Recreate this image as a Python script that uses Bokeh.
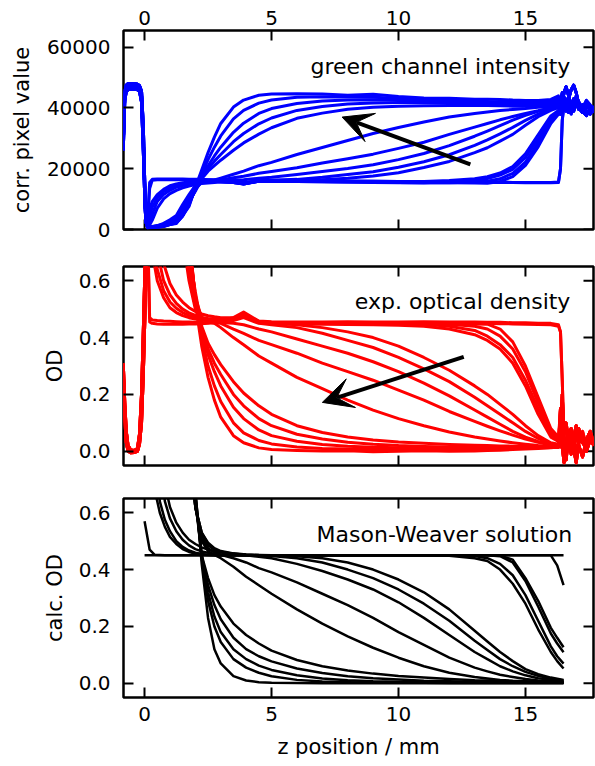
import math
from bokeh.plotting import figure
from bokeh.layouts import column
from bokeh.models import (Range1d, FixedTicker, LinearAxis, Label, Arrow, VeeHead,
                          BasicTickFormatter, PrintfTickFormatter)
from bokeh.embed import file_html
from bokeh.resources import INLINE

FONT = "DejaVu Sans"

# ---------------- data ----------------
x_ticks = [0, 5, 10, 15]
pix_ticks = [0, 20000, 40000, 60000]
od_ticks = [0.0, 0.2, 0.4, 0.6]
x_lim = [-0.83, 17.68]
pix_lim = [0, 65500]
od_lim = [-0.05, 0.65]

# z grids (mm)
z_edge = [-0.84, -0.78, -0.72, -0.65, -0.55, -0.4, -0.28, -0.2, -0.12, -0.05, 0.02, 0.06]
z_main = [0.12, 0.2, 0.3, 0.5, 0.75, 1.0, 1.25, 1.5, 1.75, 2.0, 2.25, 2.5, 2.75, 3.0, 3.5,
          3.9, 4.5, 5.0, 6.0, 7.0, 8.0, 9.0, 10.0, 11.0, 12.0, 13.0, 13.5, 14.0, 14.5, 15.0,
          15.5, 16.0, 16.3]
z_tail = [16.38, 16.45, 16.52, 16.6, 16.7, 16.8, 16.9, 17.0, 17.1, 17.25, 17.4, 17.55, 17.7]
z_calc = [0.0, 0.2, 0.4, 0.6, 0.8, 1.0, 1.25, 1.5, 1.75, 2.0, 2.25, 2.5, 2.75, 3.0, 3.5,
          4.0, 4.5, 5.0, 6.0, 7.0, 8.0, 9.0, 10.0, 11.0, 12.0, 13.0, 13.5, 14.0, 14.5, 15.0,
          15.5, 16.0, 16.25, 16.5]
z_calc_flat = [0.0, 16.5]

# green channel intensity (corr. pixel value)
pix_edge_a = [28000, 44000, 46500, 47000, 47200, 47200, 47000, 46500, 44000, 30000, 9000, 3000]
pix_edge_b = [30000, 45500, 47500, 48000, 48000, 48000, 47800, 47300, 45500, 34000, 11000, 3500]
pix_edge_c = [26000, 42500, 45500, 46000, 46200, 46200, 46000, 45500, 42000, 26000, 7000, 2200]

pix_01 = [3000, 13500, 16200, 16400, 16400, 16400, 16400, 16400, 16400, 16400, 16400, 16400, 16300, 16100, 15700, 15000, 16000, 16100, 16100, 16000, 15900, 15900, 15800, 15700, 15600, 15600, 15500, 15500, 15500, 15400, 15400, 15400, 15500]
pix_02 = [3500, 15500, 16500, 16600, 16600, 16600, 16600, 16600, 16500, 16500, 16500, 16400, 16300, 16200, 15900, 15200, 16100, 16200, 16200, 16200, 16000, 15900, 15800, 15700, 15600, 15600, 15600, 15600, 15500, 15500, 15500, 15500, 15600]
pix_03 = [1500, 6500, 9200, 11500, 13200, 14400, 15000, 15400, 15600, 15800, 15900, 16000, 16000, 15900, 15500, 15000, 15900, 15900, 15800, 15700, 15600, 15500, 15400, 15400, 15400, 15300, 15200, 15800, 17400, 21100, 27200, 34900, 37900]
pix_04 = [1300, 4600, 7300, 10500, 12500, 13700, 14400, 14900, 15300, 15600, 15700, 15800, 15900, 15800, 15500, 15000, 15900, 15900, 15800, 15700, 15600, 15600, 15500, 15400, 15400, 15600, 15900, 16700, 18500, 22200, 28500, 35700, 38300]
pix_05 = [1100, 2300, 5000, 9200, 11500, 12900, 13900, 14500, 15000, 15300, 15600, 15700, 15800, 15800, 15500, 15100, 15900, 16000, 15900, 15800, 15700, 15600, 15500, 15400, 15700, 16100, 16800, 17900, 19800, 23700, 29800, 36600, 38800]
pix_06 = [900, 1500, 3000, 7000, 10100, 11800, 12900, 13700, 14300, 14800, 15100, 15300, 15500, 15600, 15500, 15200, 15900, 16000, 16000, 15900, 15800, 15800, 15800, 15800, 16100, 16700, 17400, 18600, 20700, 24900, 31200, 37400, 39200]
pix_07 = [800, 900, 1000, 1300, 2000, 3200, 4600, 8200, 11500, 14500, 15600, 16000, 16000, 16000, 15700, 15100, 16000, 16000, 16200, 16400, 16900, 17600, 18700, 20400, 22400, 25300, 26900, 29100, 31300, 34300, 37100, 39200, 40100]
pix_08 = [750, 850, 950, 1200, 1800, 2900, 3700, 7300, 11000, 14200, 15600, 16000, 16100, 16100, 15900, 15500, 16100, 16200, 16500, 17200, 18100, 19000, 20500, 22300, 24600, 27700, 29500, 31500, 33600, 35900, 38000, 39600, 40600]
pix_09 = [700, 800, 900, 1100, 1700, 2600, 3300, 6500, 10500, 13900, 15600, 16000, 16100, 16200, 16300, 16400, 16900, 17200, 18100, 19100, 20100, 21300, 23000, 25000, 27600, 30700, 32400, 34200, 36000, 37600, 38900, 40000, 40800]
pix_10 = [650, 750, 850, 1050, 1600, 2300, 2900, 5800, 10100, 13600, 15600, 16100, 16200, 16300, 17000, 17500, 18500, 19100, 20300, 21900, 23300, 24800, 26700, 28700, 31300, 33700, 34900, 36100, 37200, 38200, 39100, 40100, 40800]
pix_11 = [600, 700, 800, 1000, 1500, 2050, 2600, 5200, 9200, 13200, 15600, 16100, 16300, 16900, 18200, 19200, 21000, 22100, 24700, 27000, 29300, 31600, 33600, 35400, 37000, 38200, 38700, 39200, 39500, 39800, 40200, 40600, 41200]
pix_12 = [650, 700, 750, 850, 1200, 1800, 2300, 4600, 7600, 13900, 19600, 25300, 30400, 34900, 40300, 42600, 44200, 44600, 44700, 44600, 44200, 44500, 43800, 43300, 43200, 42900, 42900, 42800, 42600, 42500, 42500, 42800, 44000]
pix_13 = [620, 680, 720, 820, 1150, 1800, 2300, 4600, 8000, 13600, 18300, 23000, 27100, 30800, 36400, 39200, 41600, 42600, 43500, 43700, 43600, 43500, 43200, 42800, 42600, 42200, 42100, 42000, 41900, 41800, 41800, 42000, 43200]
pix_14 = [600, 650, 700, 800, 1100, 1700, 2200, 4500, 8400, 13200, 17500, 21000, 24200, 27100, 32000, 35000, 38200, 39800, 41500, 42300, 42600, 42700, 42600, 42400, 42100, 41800, 41600, 41600, 41500, 41400, 41400, 41700, 42800]
pix_15 = [580, 630, 680, 780, 1050, 1650, 2100, 4400, 8800, 12900, 17100, 20100, 22500, 24700, 28900, 31600, 34800, 36700, 39200, 40500, 41300, 41600, 41800, 41800, 41700, 41500, 41300, 41200, 41000, 41000, 40900, 41200, 42300]
pix_16 = [560, 610, 660, 760, 1000, 1600, 2000, 4800, 9200, 12600, 16700, 19200, 21000, 22800, 26100, 28500, 31400, 33500, 36600, 38300, 39600, 40200, 40600, 40700, 40800, 40900, 40800, 40700, 40600, 40600, 40500, 40700, 41800]

pix_tail_rise = [20000, 36000, 41000, 43000, 40500, 38000, 41500, 44000, 42000, 40000, 42500, 41000, 39000]
pix_tail_a = [38000, 42000, 45000, 47000, 44000, 41000, 39000, 42000, 40000, 38500, 41000, 39500, 40500]
pix_tail_b = [40000, 44000, 42000, 39000, 43000, 46000, 47500, 45000, 41000, 39000, 37500, 40000, 38500]
pix_tail_c = [42000, 45000, 43500, 41000, 38500, 40000, 43000, 41500, 39500, 41000, 39000, 38000, 40500]

# experimental optical density
od_edge_a = [0.28, 0.14, 0.05, 0.01, 0.0, 0.0, 0.005, 0.04, 0.15, 0.35, 0.58, 0.72]
od_edge_b = [0.31, 0.17, 0.07, 0.02, 0.005, 0.003, 0.01, 0.06, 0.2, 0.42, 0.66, 0.8]
od_edge_c = [0.25, 0.11, 0.03, 0.0, -0.005, -0.004, 0.0, 0.025, 0.1, 0.27, 0.5, 0.64]

od_01 = [0.80, 0.47, 0.462, 0.46, 0.458, 0.457, 0.456, 0.455, 0.455, 0.454, 0.453, 0.452, 0.455, 0.46, 0.47, 0.49, 0.458, 0.456, 0.455, 0.455, 0.456, 0.455, 0.455, 0.456, 0.455, 0.455, 0.454, 0.454, 0.452, 0.452, 0.45, 0.45, 0.445]
od_02 = [0.75, 0.455, 0.45, 0.448, 0.447, 0.447, 0.447, 0.447, 0.448, 0.448, 0.449, 0.45, 0.452, 0.456, 0.465, 0.485, 0.455, 0.452, 0.452, 0.451, 0.452, 0.451, 0.452, 0.452, 0.451, 0.45, 0.45, 0.449, 0.448, 0.447, 0.446, 0.445, 0.44]
od_03 = [1.2, 0.85, 0.70, 0.60, 0.54, 0.505, 0.488, 0.477, 0.47, 0.465, 0.462, 0.46, 0.46, 0.462, 0.468, 0.485, 0.456, 0.453, 0.452, 0.452, 0.452, 0.451, 0.451, 0.45, 0.449, 0.448, 0.447, 0.43, 0.385, 0.30, 0.19, 0.08, 0.05]
od_04 = [1.5, 1.0, 0.80, 0.64, 0.565, 0.525, 0.503, 0.488, 0.478, 0.471, 0.466, 0.463, 0.462, 0.463, 0.468, 0.483, 0.456, 0.453, 0.452, 0.451, 0.451, 0.45, 0.45, 0.449, 0.447, 0.44, 0.43, 0.405, 0.36, 0.28, 0.17, 0.07, 0.045]
od_05 = [2.0, 1.3, 0.95, 0.70, 0.60, 0.55, 0.52, 0.50, 0.487, 0.478, 0.471, 0.467, 0.465, 0.465, 0.468, 0.48, 0.455, 0.452, 0.451, 0.45, 0.45, 0.449, 0.448, 0.447, 0.44, 0.425, 0.405, 0.375, 0.33, 0.25, 0.15, 0.06, 0.04]
od_06 = [2.5, 1.7, 1.2, 0.82, 0.66, 0.59, 0.55, 0.525, 0.505, 0.492, 0.483, 0.477, 0.473, 0.47, 0.47, 0.478, 0.455, 0.45, 0.448, 0.447, 0.446, 0.445, 0.443, 0.44, 0.43, 0.41, 0.39, 0.36, 0.31, 0.23, 0.13, 0.05, 0.035]
od_07 = [1.8, 1.75, 1.7, 1.6, 1.45, 1.15, 1.0, 0.75, 0.60, 0.50, 0.47, 0.46, 0.458, 0.458, 0.465, 0.48, 0.452, 0.45, 0.445, 0.435, 0.42, 0.40, 0.37, 0.33, 0.285, 0.23, 0.20, 0.165, 0.13, 0.09, 0.055, 0.03, 0.025]
od_08 = [1.8, 1.75, 1.7, 1.6, 1.45, 1.2, 1.1, 0.80, 0.62, 0.51, 0.47, 0.46, 0.457, 0.456, 0.46, 0.47, 0.45, 0.445, 0.435, 0.415, 0.39, 0.365, 0.33, 0.29, 0.245, 0.19, 0.16, 0.13, 0.10, 0.07, 0.045, 0.025, 0.02]
od_09 = [1.8, 1.75, 1.7, 1.65, 1.5, 1.25, 1.15, 0.85, 0.64, 0.52, 0.47, 0.458, 0.455, 0.453, 0.45, 0.445, 0.43, 0.42, 0.395, 0.37, 0.345, 0.315, 0.28, 0.24, 0.195, 0.145, 0.12, 0.095, 0.07, 0.05, 0.035, 0.022, 0.018]
od_10 = [1.8, 1.75, 1.7, 1.65, 1.5, 1.3, 1.2, 0.90, 0.66, 0.53, 0.47, 0.455, 0.452, 0.45, 0.43, 0.415, 0.39, 0.375, 0.345, 0.31, 0.28, 0.25, 0.215, 0.18, 0.14, 0.105, 0.088, 0.072, 0.057, 0.043, 0.032, 0.022, 0.018]
od_11 = [1.8, 1.75, 1.7, 1.7, 1.55, 1.35, 1.25, 0.95, 0.70, 0.54, 0.47, 0.455, 0.45, 0.435, 0.40, 0.375, 0.335, 0.31, 0.26, 0.22, 0.18, 0.145, 0.115, 0.09, 0.068, 0.05, 0.043, 0.036, 0.03, 0.025, 0.02, 0.016, 0.014]
od_12 = [1.8, 1.75, 1.7, 1.7, 1.55, 1.4, 1.3, 1.0, 0.78, 0.52, 0.37, 0.26, 0.18, 0.12, 0.055, 0.03, 0.012, 0.006, 0.003, 0.001, 0.002, -0.002, 0.0, 0.002, 0.0, 0.001, 0.003, 0.004, 0.006, 0.008, 0.01, 0.012, 0.015]
od_13 = [1.8, 1.75, 1.7, 1.7, 1.55, 1.4, 1.3, 1.0, 0.76, 0.53, 0.40, 0.30, 0.23, 0.175, 0.10, 0.065, 0.038, 0.026, 0.015, 0.01, 0.008, 0.006, 0.006, 0.007, 0.006, 0.007, 0.008, 0.009, 0.01, 0.011, 0.012, 0.013, 0.014]
od_14 = [1.8, 1.75, 1.7, 1.7, 1.55, 1.4, 1.3, 1.0, 0.74, 0.54, 0.42, 0.34, 0.28, 0.23, 0.155, 0.115, 0.075, 0.055, 0.035, 0.024, 0.018, 0.014, 0.012, 0.011, 0.011, 0.011, 0.011, 0.012, 0.012, 0.013, 0.013, 0.014, 0.015]
od_15 = [1.8, 1.75, 1.7, 1.7, 1.55, 1.4, 1.3, 1.0, 0.72, 0.55, 0.43, 0.36, 0.31, 0.27, 0.20, 0.16, 0.115, 0.09, 0.06, 0.043, 0.032, 0.025, 0.02, 0.017, 0.015, 0.014, 0.014, 0.014, 0.014, 0.014, 0.015, 0.015, 0.016]
od_16 = [1.8, 1.75, 1.7, 1.7, 1.55, 1.4, 1.3, 0.98, 0.70, 0.56, 0.44, 0.38, 0.34, 0.305, 0.245, 0.205, 0.16, 0.13, 0.09, 0.066, 0.05, 0.04, 0.033, 0.028, 0.024, 0.021, 0.02, 0.019, 0.018, 0.017, 0.017, 0.016, 0.017]

od_tail_drop = [0.42, 0.25, 0.03, -0.02, 0.04, 0.01, 0.06, 0.0, 0.03, 0.07, 0.02, 0.05, 0.03]
od_tail_a = [0.06, 0.2, 0.02, -0.03, 0.05, 0.08, 0.01, -0.04, 0.03, 0.06, 0.0, 0.04, 0.02]
od_tail_b = [0.15, 0.02, -0.04, 0.03, 0.07, 0.02, 0.05, 0.09, 0.02, -0.02, 0.04, 0.07, 0.03]
od_tail_c = [0.03, 0.01, 0.06, 0.1, 0.04, -0.01, 0.02, 0.05, 0.08, 0.03, 0.01, 0.06, 0.02]

# Mason-Weaver calculated optical density
calc_flat = [0.45, 0.45]
calc_01 = [0.57, 0.47, 0.452, 0.451, 0.45, 0.45, 0.45, 0.45, 0.45, 0.45, 0.45, 0.45, 0.45, 0.45, 0.45, 0.45, 0.45, 0.45, 0.45, 0.45, 0.45, 0.45, 0.45, 0.45, 0.45, 0.45, 0.45, 0.45, 0.45, 0.45, 0.45, 0.45, 0.415, 0.345]
calc_02 = [3.0, 1.2, 0.68, 0.60, 0.55, 0.515, 0.49, 0.472, 0.462, 0.456, 0.453, 0.451, 0.45, 0.45, 0.45, 0.45, 0.45, 0.45, 0.45, 0.45, 0.45, 0.45, 0.45, 0.45, 0.45, 0.45, 0.45, 0.449, 0.435, 0.37, 0.29, 0.195, 0.16, 0.127]
calc_03 = [3.0, 1.5, 0.80, 0.64, 0.575, 0.535, 0.50, 0.48, 0.467, 0.459, 0.455, 0.452, 0.451, 0.45, 0.45, 0.45, 0.45, 0.45, 0.45, 0.45, 0.45, 0.45, 0.45, 0.45, 0.45, 0.45, 0.45, 0.447, 0.425, 0.36, 0.27, 0.175, 0.14, 0.109]
calc_04 = [3.0, 2.0, 1.1, 0.80, 0.64, 0.58, 0.535, 0.505, 0.485, 0.472, 0.464, 0.459, 0.455, 0.453, 0.451, 0.45, 0.45, 0.45, 0.45, 0.45, 0.45, 0.45, 0.45, 0.45, 0.45, 0.448, 0.44, 0.42, 0.38, 0.31, 0.22, 0.13, 0.095, 0.069]
calc_05 = [3.0, 2.5, 1.5, 1.0, 0.70, 0.62, 0.565, 0.53, 0.505, 0.49, 0.478, 0.47, 0.465, 0.46, 0.455, 0.452, 0.451, 0.45, 0.45, 0.45, 0.45, 0.45, 0.45, 0.45, 0.449, 0.44, 0.43, 0.40, 0.35, 0.28, 0.19, 0.11, 0.078, 0.052]
calc_06 = [3.0, 3.0, 3.0, 2.5, 2.0, 1.6, 1.3, 1.1, 0.85, 0.62, 0.53, 0.495, 0.475, 0.465, 0.457, 0.453, 0.451, 0.45, 0.447, 0.44, 0.425, 0.40, 0.365, 0.32, 0.26, 0.185, 0.147, 0.11, 0.078, 0.05, 0.032, 0.02, 0.016, 0.012]
calc_07 = [3.0, 3.0, 3.0, 2.5, 2.0, 1.6, 1.3, 1.1, 0.86, 0.62, 0.53, 0.49, 0.472, 0.463, 0.456, 0.452, 0.45, 0.448, 0.44, 0.425, 0.40, 0.37, 0.33, 0.28, 0.22, 0.15, 0.117, 0.085, 0.06, 0.04, 0.026, 0.016, 0.013, 0.01]
calc_08 = [3.0, 3.0, 3.0, 2.5, 2.0, 1.6, 1.3, 1.1, 0.88, 0.62, 0.52, 0.485, 0.47, 0.462, 0.455, 0.45, 0.445, 0.44, 0.42, 0.395, 0.365, 0.33, 0.285, 0.23, 0.17, 0.11, 0.085, 0.06, 0.042, 0.028, 0.018, 0.012, 0.01, 0.008]
calc_09 = [3.0, 3.0, 3.0, 2.5, 2.0, 1.6, 1.3, 1.1, 0.9, 0.62, 0.51, 0.475, 0.46, 0.452, 0.44, 0.425, 0.405, 0.39, 0.355, 0.315, 0.275, 0.23, 0.18, 0.135, 0.09, 0.055, 0.042, 0.03, 0.022, 0.015, 0.01, 0.007, 0.006, 0.005]
calc_10 = [3.0, 3.0, 3.0, 2.5, 2.0, 1.6, 1.3, 1.1, 0.95, 0.62, 0.50, 0.465, 0.452, 0.44, 0.41, 0.375, 0.345, 0.315, 0.26, 0.21, 0.165, 0.125, 0.09, 0.06, 0.037, 0.022, 0.017, 0.012, 0.009, 0.007, 0.005, 0.004, 0.003, 0.003]
calc_11 = [3.0, 3.0, 3.0, 3.0, 2.5, 2.0, 1.6, 1.3, 0.92, 0.64, 0.45, 0.37, 0.31, 0.27, 0.21, 0.17, 0.14, 0.115, 0.082, 0.06, 0.045, 0.034, 0.026, 0.02, 0.015, 0.011, 0.01, 0.008, 0.007, 0.006, 0.005, 0.004, 0.004, 0.003]
calc_12 = [3.0, 3.0, 3.0, 3.0, 2.5, 2.0, 1.6, 1.3, 0.94, 0.65, 0.45, 0.345, 0.275, 0.225, 0.16, 0.12, 0.095, 0.077, 0.052, 0.036, 0.025, 0.018, 0.013, 0.009, 0.007, 0.005, 0.005, 0.004, 0.004, 0.003, 0.003, 0.003, 0.003, 0.003]
calc_13 = [3.0, 3.0, 3.0, 3.0, 2.5, 2.0, 1.6, 1.3, 0.96, 0.66, 0.45, 0.32, 0.235, 0.18, 0.12, 0.085, 0.062, 0.047, 0.028, 0.017, 0.011, 0.007, 0.005, 0.004, 0.003, 0.002, 0.002, 0.002, 0.002, 0.002, 0.002, 0.002, 0.002, 0.002]
calc_14 = [3.0, 3.0, 3.0, 3.0, 2.5, 2.0, 1.6, 1.3, 0.98, 0.67, 0.44, 0.29, 0.2, 0.145, 0.085, 0.055, 0.037, 0.025, 0.012, 0.006, 0.004, 0.003, 0.002, 0.002, 0.001, 0.001, 0.001, 0.001, 0.001, 0.001, 0.001, 0.001, 0.001, 0.001]
calc_15 = [3.0, 3.0, 3.0, 3.0, 2.5, 2.0, 1.6, 1.3, 1.0, 0.68, 0.42, 0.23, 0.12, 0.07, 0.025, 0.01, 0.004, 0.002, 0.001, 0.0, 0.0, 0.0, 0.0, 0.0, 0.0, 0.0, 0.0, 0.0, 0.0, 0.0, 0.0, 0.0, 0.0, 0.0]

# annotations (data coordinates)
arrow_top = [12.83, 21400, 7.78, 37000]
arrow_mid = [12.57, 0.332, 7.0, 0.172]
title_top = [16.77, 53700]
title_mid = [16.77, 0.526]
title_bot = [16.84, 0.524]

# ---------------- assembly tables ----------------
pix_curves = [(pix_01, pix_edge_a, pix_tail_rise), (pix_02, pix_edge_b, pix_tail_rise),
              (pix_03, pix_edge_c, pix_tail_a), (pix_04, pix_edge_a, pix_tail_b),
              (pix_05, pix_edge_b, pix_tail_c), (pix_06, pix_edge_c, pix_tail_a),
              (pix_07, pix_edge_a, pix_tail_b), (pix_08, pix_edge_b, pix_tail_c),
              (pix_09, pix_edge_c, pix_tail_a), (pix_10, pix_edge_a, pix_tail_b),
              (pix_11, pix_edge_b, pix_tail_c), (pix_12, pix_edge_c, pix_tail_a),
              (pix_13, pix_edge_a, pix_tail_b), (pix_14, pix_edge_b, pix_tail_c),
              (pix_15, pix_edge_c, pix_tail_a), (pix_16, pix_edge_a, pix_tail_b)]
od_curves = [(od_01, od_edge_a, od_tail_drop), (od_02, od_edge_b, od_tail_drop),
             (od_03, od_edge_c, od_tail_a), (od_04, od_edge_a, od_tail_b),
             (od_05, od_edge_b, od_tail_c), (od_06, od_edge_c, od_tail_a),
             (od_07, od_edge_a, od_tail_b), (od_08, od_edge_b, od_tail_c),
             (od_09, od_edge_c, od_tail_a), (od_10, od_edge_a, od_tail_b),
             (od_11, od_edge_b, od_tail_c), (od_12, od_edge_c, od_tail_a),
             (od_13, od_edge_a, od_tail_b), (od_14, od_edge_b, od_tail_c),
             (od_15, od_edge_c, od_tail_a), (od_16, od_edge_a, od_tail_b)]
calc_curves = [calc_01, calc_02, calc_03, calc_04, calc_05, calc_06, calc_07, calc_08,
               calc_09, calc_10, calc_11, calc_12, calc_13, calc_14, calc_15]


def style_axis(ax):
    ax.major_tick_in = 10
    ax.major_tick_out = 0
    ax.major_tick_line_width = 2
    ax.major_tick_line_color = "black"
    ax.minor_tick_line_color = None
    ax.axis_line_color = None
    ax.major_label_text_font = FONT
    ax.major_label_text_color = "black"
    ax.major_label_text_font_size = "20px"


def inner_ticks(p, y_ticks, y_lim, top_side, bottom_side):
    # tick marks (inward) on the sides that carry no labels
    n = len(y_ticks)
    p.scatter([x_lim[1]] * n, y_ticks, marker="dash", size=20, line_width=2,
              line_color="black")
    m = len(x_ticks)
    if top_side:
        p.scatter(x_ticks, [y_lim[1]] * m, marker="dash", size=20, angle=math.pi / 2,
                  line_width=2, line_color="black")
    if bottom_side:
        p.scatter(x_ticks, [y_lim[0]] * m, marker="dash", size=20, angle=math.pi / 2,
                  line_width=2, line_color="black")


def make_fig(y_lim, y_ticks, y_fmt, ylabel, top_labels, mb_top, mb_bottom,
             ylabel_standoff, xlabel=None):
    p = figure(frame_width=470, frame_height=199,
               x_range=Range1d(*x_lim), y_range=Range1d(*y_lim),
               x_axis_location=None, y_axis_location=None,
               output_backend="svg", toolbar_location=None,
               min_border_left=123, min_border_right=2,
               min_border_top=mb_top, min_border_bottom=mb_bottom,
               background_fill_color="white", border_fill_color="white")
    p.outline_line_color = "black"
    p.outline_line_width = 2.5
    p.outline_line_alpha = 1.0
    for g in p.grid:
        g.visible = False

    left = LinearAxis(ticker=FixedTicker(ticks=y_ticks), formatter=y_fmt,
                      axis_label=ylabel)
    style_axis(left)
    left.major_label_standoff = 13
    left.axis_label_text_font = FONT
    left.axis_label_text_font_size = "21px"
    left.axis_label_text_font_style = "normal"
    left.axis_label_text_color = "black"
    left.axis_label_standoff = ylabel_standoff
    p.add_layout(left, "left")

    if top_labels:
        above = LinearAxis(ticker=FixedTicker(ticks=x_ticks))
        style_axis(above)
        above.major_label_standoff = 6
        p.add_layout(above, "above")
    if xlabel:
        below = LinearAxis(ticker=FixedTicker(ticks=x_ticks), axis_label=xlabel)
        style_axis(below)
        below.major_label_standoff = 9
        below.axis_label_text_font = FONT
        below.axis_label_text_font_size = "21px"
        below.axis_label_text_font_style = "normal"
        below.axis_label_text_color = "black"
        below.axis_label_standoff = 11
        p.add_layout(below, "below")
    inner_ticks(p, y_ticks, y_lim, not top_labels, xlabel is None)
    return p


def add_title(p, pos, text):
    p.add_layout(Label(x=pos[0], y=pos[1], text=text, text_align="right",
                       text_baseline="alphabetic", text_font=FONT,
                       text_font_size="22px", text_color="black"))


def add_arrow(p, a):
    p.add_layout(Arrow(end=VeeHead(size=30, fill_color="black", line_color="black",
                                   line_width=1),
                       x_start=a[0], y_start=a[1], x_end=a[2], y_end=a[3],
                       line_width=4, line_color="black"))


# top: green channel intensity
p1 = make_fig(pix_lim, pix_ticks, BasicTickFormatter(use_scientific=False),
              "corr. pixel value", True, 30, 18, 10)
for main, edge, tail in pix_curves:
    p1.line(z_edge + z_main + z_tail, edge + main + tail, line_color="#0000ff",
            line_width=3, line_join="round")
add_title(p1, title_top, "green channel intensity")
add_arrow(p1, arrow_top)

# middle: experimental OD
p2 = make_fig(od_lim, od_ticks, PrintfTickFormatter(format="%.1f"),
              "OD", False, 19, 16, 9)
for main, edge, tail in od_curves:
    p2.line(z_edge + z_main + z_tail, edge + main + tail, line_color="#ff0000",
            line_width=3, line_join="round")
add_title(p2, title_mid, "exp. optical density")
add_arrow(p2, arrow_mid)

# bottom: Mason-Weaver solution
p3 = make_fig(od_lim, od_ticks, PrintfTickFormatter(format="%.1f"),
              "calc. OD", False, 17, 68, 9, xlabel="z position / mm")
p3.line(z_calc_flat, calc_flat, line_color="black", line_width=2.5)
for c in calc_curves:
    p3.line(z_calc, c, line_color="black", line_width=2.5, line_join="round")
add_title(p3, title_bot, "Mason-Weaver solution")

layout = column(p1, p2, p3)
open("out.html", "w").write(file_html(layout, INLINE))
